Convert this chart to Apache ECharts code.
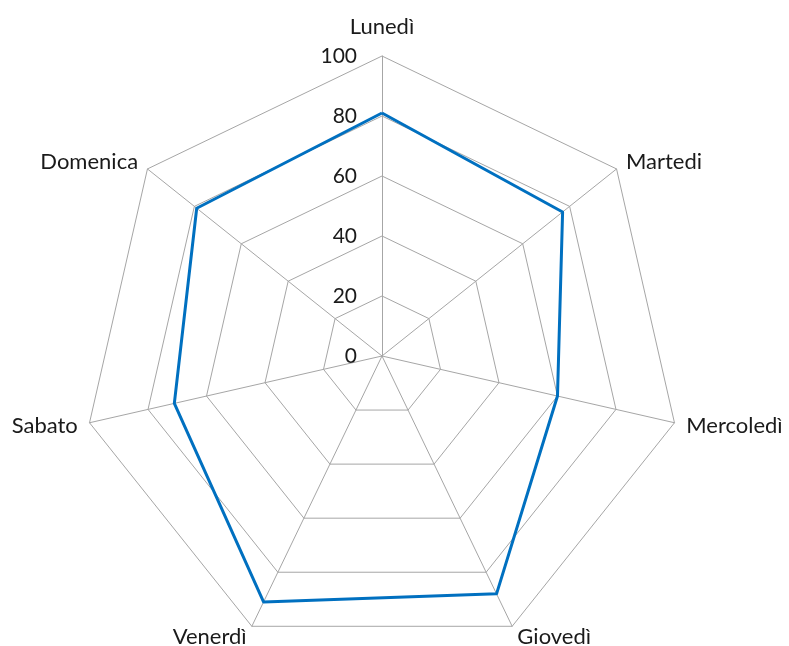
<!DOCTYPE html>
<html>
<head>
<meta charset="utf-8">
<script src="https://cdn.jsdelivr.net/npm/echarts@6/dist/echarts.min.js"></script>
<style>
html,body{margin:0;padding:0;background:#fff;}
#chart{width:789px;height:646px;}
</style>
</head>
<body>
<div id="chart"></div>
<script>
const categories = ['Lunedì', 'Martedi', 'Mercoledì', 'Giovedì', 'Venerdì', 'Sabato', 'Domenica'];
const values = [81, 77, 60, 88, 91, 71, 79];
const tickLabels = ['0', '20', '40', '60', '80', '100'];
const axisMax = 100;
const tickInterval = 20;

// ECharts radar runs counter-clockwise; reorder so the categories run clockwise.
const order = [0].concat(categories.map((_, i) => i).slice(1).reverse());
const shownCats = order.map(i => categories[i]);
const shownVals = order.map(i => values[i]);

const txt = {color: '#1a1a1a', fontFamily: 'Lato', fontSize: 22};
const tickTxt = {color: '#1a1a1a', fontFamily: 'Lato', fontSize: 21};
const chart = echarts.init(document.getElementById('chart'), null, {renderer: 'canvas'});
const indicator = shownCats.map((name, i) => {
  const o = {name: name, min: 0, max: axisMax};
  if (i === 0) o.axisLabel = {show: true};
  return o;
});
chart.setOption({
  animation: false,
  backgroundColor: '#ffffff',
  radar: {
    center: [382, 356],
    radius: 300,
    startAngle: 90,
    shape: 'polygon',
    splitNumber: axisMax / tickInterval,
    indicator: indicator,
    axisName: Object.assign({}, txt, {
      formatter: (name) => name === categories[0] ? '{t|' + name + '}' : name,
      rich: {t: Object.assign({}, txt, {padding: [0, 0, 6, 0]})}
    }),
    nameGap: 12,
    axisLine: {lineStyle: {color: '#a6a6a6', width: 1}},
    splitLine: {lineStyle: {color: '#a6a6a6', width: 1}},
    splitArea: {show: false},
    axisTick: {show: false},
    axisLabel: Object.assign({show: false, margin: 25,
      formatter: (v) => tickLabels[Math.round(v / tickInterval)]}, tickTxt)
  },
  series: [{
    type: 'radar',
    symbol: 'none',
    lineStyle: {color: '#0070c0', width: 3},
    data: [{value: shownVals, name: 'Serie'}]
  }]
});
</script>
</body>
</html>
